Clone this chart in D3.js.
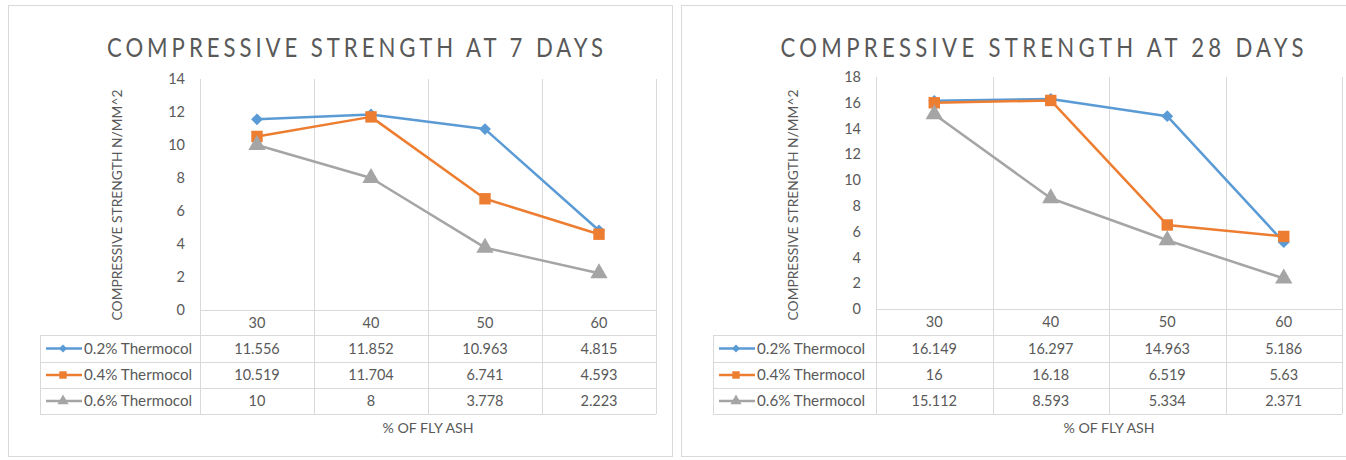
<!DOCTYPE html>
<html>
<head>
<meta charset="utf-8">
<script src="https://cdn.jsdelivr.net/npm/d3@7"></script>
<style>
  body { margin: 0; background: #fff; }
  svg { display: block; font-family: Lato, "Open Sans", sans-serif; }
</style>
</head>
<body>
<svg id="chart" width="1346" height="460"></svg>
<script>
// categories (% of fly ash)
var categories = ["30", "40", "50", "60"];
var seriesNames = ["0.2% Thermocol", "0.4% Thermocol", "0.6% Thermocol"];

// 7 days values
var days7_02 = [11.556, 11.852, 10.963, 4.815];
var days7_04 = [10.519, 11.704, 6.741, 4.593];
var days7_06 = [10, 8, 3.778, 2.223];

// 28 days values
var days28_02 = [16.149, 16.297, 14.963, 5.186];
var days28_04 = [16, 16.18, 6.519, 5.63];
var days28_06 = [15.112, 8.593, 5.334, 2.371];

var ticks7 = [0, 2, 4, 6, 8, 10, 12, 14];
var ticks28 = [0, 2, 4, 6, 8, 10, 12, 14, 16, 18];

var colors = ["#5b9bd5", "#ed7d31", "#a5a5a5"];
var shapes = [d3.symbolDiamond2, d3.symbolSquare, d3.symbolTriangle];
var gridColor = "#d9d9d9";
var textColor = "#595959";

var svg = d3.select("#chart");

function drawChart(cfg) {
  var g = svg.append("g");

  // panel border
  g.append("rect")
    .attr("x", cfg.panel[0] + 0.5).attr("y", cfg.panel[1] + 0.5)
    .attr("width", cfg.panel[2]).attr("height", cfg.panel[3])
    .attr("fill", "#fff").attr("stroke", gridColor);

  // title (narrowed glyphs, wide tracking like the original)
  var sx = 0.82;
  g.append("text")
    .attr("transform", "translate(" + cfg.titleX + ",57) scale(" + sx + ",1)")
    .attr("text-anchor", "middle")
    .attr("font-size", 27)
    .attr("fill", textColor)
    .attr("textLength", cfg.titleLen / sx)
    .attr("lengthAdjust", "spacing")
    .text(cfg.title);

  var x = d3.scaleBand()
    .domain(categories)
    .range([cfg.left, cfg.right]);

  var y = d3.scaleLinear()
    .domain([0, d3.max(cfg.ticks)])
    .range([cfg.bottom, cfg.top]);

  // vertical gridlines (band edges), extended through the data table
  var edges = categories.map(function(c) { return x(c) + x.bandwidth(); });
  edges.unshift(cfg.left);
  g.selectAll(".vgrid").data(edges).enter().append("line")
    .attr("x1", function(d) { return Math.round(d) + 0.5; })
    .attr("x2", function(d) { return Math.round(d) + 0.5; })
    .attr("y1", cfg.top).attr("y2", cfg.tableRows[3])
    .attr("stroke", gridColor);

  // table horizontal lines
  g.append("line")
    .attr("x1", cfg.left).attr("x2", cfg.right)
    .attr("y1", cfg.bottom + 0.5).attr("y2", cfg.bottom + 0.5)
    .attr("stroke", gridColor);
  g.selectAll(".hrow").data(cfg.tableRows).enter().append("line")
    .attr("x1", cfg.legendLeft).attr("x2", cfg.right)
    .attr("y1", function(d) { return d + 0.5; })
    .attr("y2", function(d) { return d + 0.5; })
    .attr("stroke", gridColor);
  g.append("line")
    .attr("x1", cfg.legendLeft + 0.5).attr("x2", cfg.legendLeft + 0.5)
    .attr("y1", cfg.tableRows[0]).attr("y2", cfg.tableRows[3])
    .attr("stroke", gridColor);

  // y axis tick labels
  g.selectAll(".ytick").data(cfg.ticks).enter().append("text")
    .attr("x", cfg.left - 15)
    .attr("y", function(d) { return y(d); })
    .attr("dy", "0.35em")
    .attr("text-anchor", "end")
    .attr("font-size", 14.5)
    .attr("fill", textColor)
    .text(function(d) { return d; });

  // y axis title
  g.append("text")
    .attr("transform", "translate(" + cfg.yTitleX + "," + 205 + ") rotate(-90)")
    .attr("text-anchor", "middle")
    .attr("dy", "0.35em")
    .attr("font-size", 13.8)
    .attr("fill", textColor)
    .text("COMPRESSIVE STRENGTH N/MM^2");

  // category labels (header row of the table)
  g.selectAll(".xcat").data(categories).enter().append("text")
    .attr("x", function(d) { return x(d) + x.bandwidth() / 2; })
    .attr("y", (cfg.bottom + cfg.tableRows[0]) / 2)
    .attr("dy", "0.35em")
    .attr("text-anchor", "middle")
    .attr("font-size", 14.5)
    .attr("fill", textColor)
    .text(function(d) { return d; });

  // lines and markers
  var line = d3.line()
    .x(function(d, i) { return x(categories[i]) + x.bandwidth() / 2; })
    .y(function(d) { return y(d); });

  cfg.series.forEach(function(vals, s) {
    g.append("path")
      .datum(vals)
      .attr("d", line)
      .attr("fill", "none")
      .attr("stroke", colors[s])
      .attr("stroke-width", 2.5)
      .attr("stroke-linejoin", "round");

    g.selectAll(".m" + s).data(vals).enter().append("path")
      .attr("transform", function(d, i) {
        return "translate(" + (x(categories[i]) + x.bandwidth() / 2) + "," + y(d) + ")";
      })
      .attr("d", d3.symbol().type(shapes[s]).size(s === 0 ? 90 : 130))
      .attr("fill", colors[s]);

    // table row: legend key + values
    var rowMid = (cfg.tableRows[s] + cfg.tableRows[s + 1]) / 2;
    var lx = cfg.legendLeft + 6;
    g.append("line")
      .attr("x1", lx).attr("x2", lx + 36)
      .attr("y1", rowMid).attr("y2", rowMid)
      .attr("stroke", colors[s]).attr("stroke-width", 2.5);
    g.append("path")
      .attr("transform", "translate(" + (lx + 17) + "," + rowMid + ")")
      .attr("d", d3.symbol().type(shapes[s]).size(s === 0 ? 40 : 55))
      .attr("fill", colors[s]);
    g.append("text")
      .attr("x", lx + 38).attr("y", rowMid)
      .attr("dy", "0.35em")
      .attr("font-size", 15.2)
      .attr("fill", textColor)
      .text(seriesNames[s]);

    g.selectAll(".v" + s).data(vals).enter().append("text")
      .attr("x", function(d, i) { return x(categories[i]) + x.bandwidth() / 2; })
      .attr("y", rowMid)
      .attr("dy", "0.35em")
      .attr("text-anchor", "middle")
      .attr("font-size", 14.5)
      .attr("fill", textColor)
      .text(function(d) { return d; });
  });

  // x axis title
  g.append("text")
    .attr("x", (cfg.left + cfg.right) / 2).attr("y", 428)
    .attr("dy", "0.35em")
    .attr("text-anchor", "middle")
    .attr("font-size", 14.2)
    .attr("fill", textColor)
    .text("% OF FLY ASH");
}

drawChart({
  panel: [8, 5, 664, 451],
  title: "COMPRESSIVE STRENGTH AT 7 DAYS",
  titleX: 355, titleLen: 496,
  left: 200, right: 656, top: 79, bottom: 310,
  legendLeft: 40,
  tableRows: [335, 362, 388, 414],
  yTitleX: 117,
  ticks: ticks7,
  series: [days7_02, days7_04, days7_06]
});

drawChart({
  panel: [681, 5, 700, 451],
  title: "COMPRESSIVE STRENGTH AT 28 DAYS",
  titleX: 1042, titleLen: 523,
  left: 876, right: 1342, top: 77, bottom: 309,
  legendLeft: 713,
  tableRows: [335, 362, 388, 414],
  yTitleX: 793,
  ticks: ticks28,
  series: [days28_02, days28_04, days28_06]
});
</script>
</body>
</html>
